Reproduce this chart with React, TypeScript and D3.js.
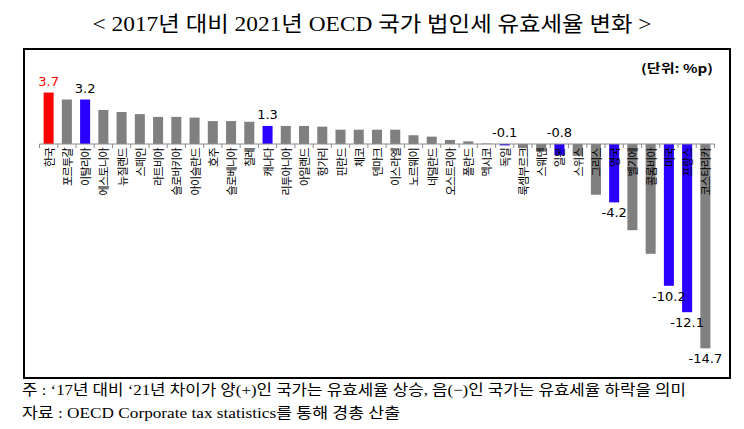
import React from "react";
import * as d3 from "d3";

const countries: string[] = [
  "한국", "포르투갈", "이탈리아", "에스토니아", "뉴질랜드", "스페인", "라트비아", "슬로바키아",
  "아이슬란드", "호주", "슬로베니아", "칠레", "캐나다", "리투아니아", "아일랜드", "헝가리",
  "핀란드", "체코", "덴마크", "이스라엘", "노르웨이", "네덜란드", "오스트리아", "폴란드",
  "멕시코", "독일", "룩셈부르크", "스웨덴", "일본", "스위스", "그리스", "영국",
  "벨기에", "콜롬비아", "미국", "프랑스", "코스타리카",
];

const values: number[] = [
  3.7, 3.2, 3.2, 2.45, 2.3, 2.15, 1.95, 1.95,
  1.9, 1.65, 1.65, 1.6, 1.3, 1.3, 1.3, 1.25,
  1.03, 1.03, 1.03, 1.03, 0.63, 0.53, 0.29, 0.19,
  0.03, -0.1, -0.3, -0.55, -0.8, -0.85, -3.65, -4.2,
  -6.2, -7.9, -10.2, -12.1, -14.7,
];

const redCountries: string[] = ["한국"];
const blueCountries: string[] = ["이탈리아", "캐나다", "독일", "일본", "영국", "미국", "프랑스"];
const labeledCountries: string[] = ["한국", "이탈리아", "캐나다", "독일", "일본", "영국", "미국", "프랑스", "코스타리카"];
const aboveAxisLabels: string[] = ["독일", "일본"];

const titleText = "< 2017년 대비 2021년 OECD 국가 법인세 유효세율 변화 >";
const unitText = "(단위: %p)";
const note1 = "주 : ‘17년 대비 ‘21년 차이가 양(+)인 국가는 유효세율 상승, 음(−)인 국가는 유효세율 하락을 의미";
const note2 = "자료 : OECD Corporate tax statistics를 통해 경총 산출";

const W = 744;
const H = 429;

const SERIF = "'Liberation Serif', 'DejaVu Serif', 'Noto Sans CJK KR', serif";
const SANS_KR = "'Noto Sans CJK KR', 'DejaVu Sans', sans-serif";
const NUM = "'DejaVu Sans', 'Noto Sans CJK KR', sans-serif";

export default function App() {
  const x = d3
    .scaleBand<string>()
    .domain(countries)
    .range([39.5, 714.5])
    .paddingInner(0.45)
    .paddingOuter(0.225);

  const y = d3.scaleLinear().domain([-15, 4]).range([352.5, 88.4]);
  const y0 = y(0);
  const step = x.step();
  const tickXs = d3.range(countries.length + 1).map((i) => 39.5 + i * step);

  const colorOf = (c: string) =>
    redCountries.includes(c) ? "#ff0000" : blueCountries.includes(c) ? "#2a00ff" : "#808080";

  return (
    <svg
      width={W}
      height={H}
      style={{ position: "absolute", left: 0, top: 0, background: "#fff" }}
      xmlns="http://www.w3.org/2000/svg"
    >
      <rect x={0} y={0} width={W} height={H} fill="#fff" />
      <text
        x={372}
        y={31}
        textAnchor="middle"
        fontFamily={SERIF}
        fontSize={21}
        textLength={559}
        lengthAdjust="spacingAndGlyphs"
        fill="#000"
      >
        {titleText}
      </text>

      <rect x={24} y={49} width={706} height={329} fill="none" stroke="#000" strokeWidth={2} />

      <text
        x={713}
        y={73}
        textAnchor="end"
        fontFamily={SANS_KR}
        fontSize={12}
        fontWeight="bold"
        textLength={72}
        lengthAdjust="spacingAndGlyphs"
        fill="#000"
      >
        {unitText}
      </text>

      {countries.map((c, i) => {
        const v = values[i];
        const bx = x(c) as number;
        const top = v >= 0 ? y(v) : y0;
        const h = Math.abs(y(v) - y0);
        return <rect key={c} x={bx} y={top} width={x.bandwidth()} height={Math.max(h, 0.5)} fill={colorOf(c)} />;
      })}

      <line x1={39.5} x2={714.5} y1={y0} y2={y0} stroke="#8c8c8c" strokeWidth={1} />
      {tickXs.map((tx, i) => (
        <line key={i} x1={tx} x2={tx} y1={y0} y2={y0 + 4} stroke="#8c8c8c" strokeWidth={1} />
      ))}

      {countries.map((c) => {
        const cx = (x(c) as number) + x.bandwidth() / 2;
        const ly = y0 + 4;
        return (
          <text
            key={c}
            transform={`translate(${cx},${ly}) rotate(-90)`}
            textAnchor="end"
            dominantBaseline="central"
            fontFamily={SANS_KR}
            fontSize={11}
            letterSpacing={-0.6}
            fill="#000"
          >
            {c}
          </text>
        );
      })}

      {countries.map((c, i) => {
        if (!labeledCountries.includes(c)) return null;
        const v = values[i];
        const cx = (x(c) as number) + x.bandwidth() / 2;
        let ly: number;
        if (v >= 0) ly = y(v) - 7;
        else if (aboveAxisLabels.includes(c)) ly = y0 - 7;
        else ly = y(v) + 15;
        return (
          <text
            key={c}
            x={cx}
            y={ly}
            textAnchor="middle"
            fontFamily={NUM}
            fontSize={13}
            fill={redCountries.includes(c) ? "#ff0000" : "#000"}
          >
            {d3.format(".1f")(v).replace("−", "-")}
          </text>
        );
      })}

      <text
        x={22}
        y={395}
        fontFamily={SERIF}
        fontSize={15}
        textLength={664}
        lengthAdjust="spacingAndGlyphs"
        fill="#000"
      >
        {note1}
      </text>
      <text
        x={22}
        y={418}
        fontFamily={SERIF}
        fontSize={15}
        textLength={378}
        lengthAdjust="spacingAndGlyphs"
        fill="#000"
      >
        {note2}
      </text>
    </svg>
  );
}
